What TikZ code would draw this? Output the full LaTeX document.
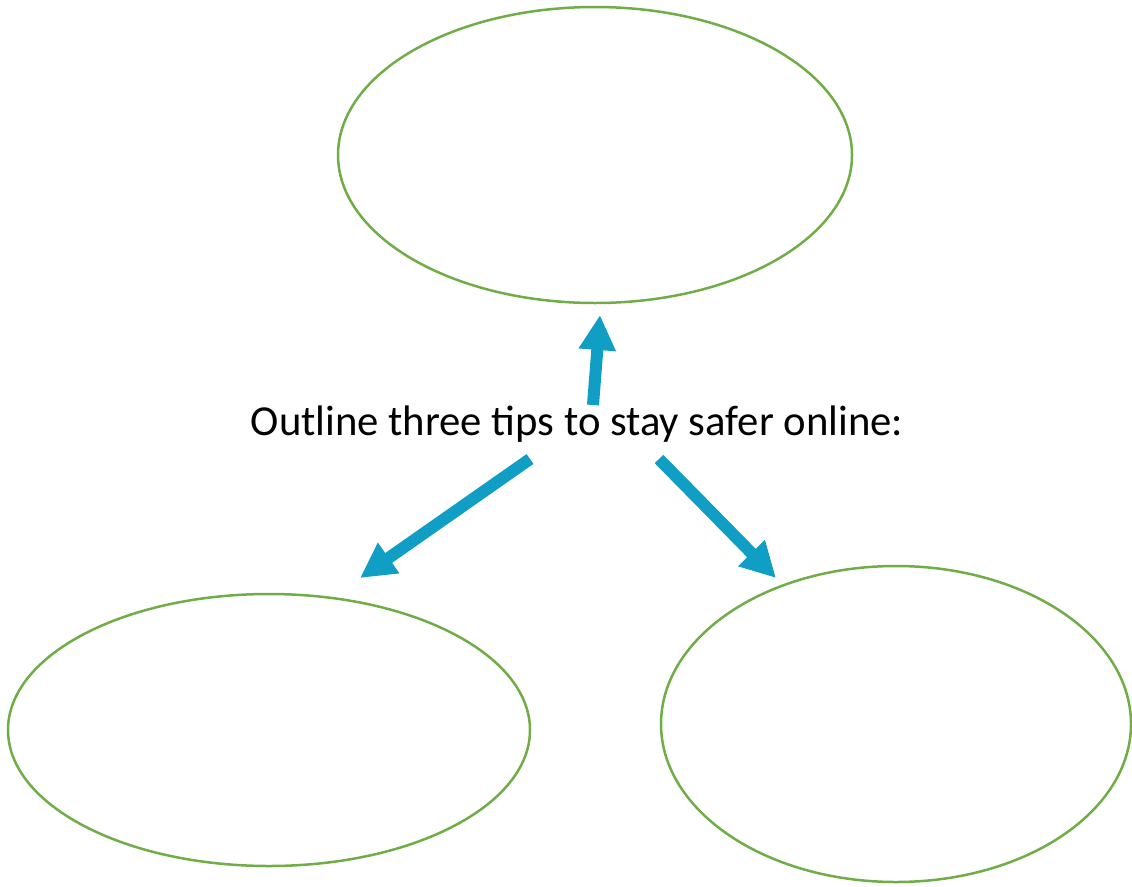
\documentclass[tikz,border=0pt]{standalone}
\usepackage{fontspec}
\setmainfont{Carlito}
\usetikzlibrary{arrows.meta}
\definecolor{ovalgreen}{RGB}{112,173,71}
\definecolor{arrowblue}{RGB}{17,158,196}
\tikzset{
  oval/.style={draw=ovalgreen, line width=2.5pt, fill=none},
  bigarrow/.style={draw=arrowblue, line width=12pt, -{Triangle[width=35pt,length=35pt]}},
}
\begin{document}
\begin{tikzpicture}[x=1pt,y=-1pt]
\useasboundingbox (0,0) rectangle (1132,886);
\draw[oval] (595,155) ellipse [x radius=257, y radius=148];
\draw[oval] (269,730) ellipse [x radius=261, y radius=136];
\draw[oval] (896,724) ellipse [x radius=235, y radius=158];
\node[anchor=base, inner sep=0pt, font=\fontsize{42.7}{50}\selectfont] (title) at (577,435) {Outline three tips to stay safer online:};
\coordinate (t1) at (593,405);
\coordinate (h1) at (600,315);
\coordinate (t2) at (530,459);
\coordinate (h2) at (360,578);
\coordinate (t3) at (659,459);
\coordinate (h3) at (776,578);
\draw[bigarrow] (t1) -- (h1);
\draw[bigarrow] (t2) -- (h2);
\draw[bigarrow] (t3) -- (h3);
\end{tikzpicture}
\end{document}
